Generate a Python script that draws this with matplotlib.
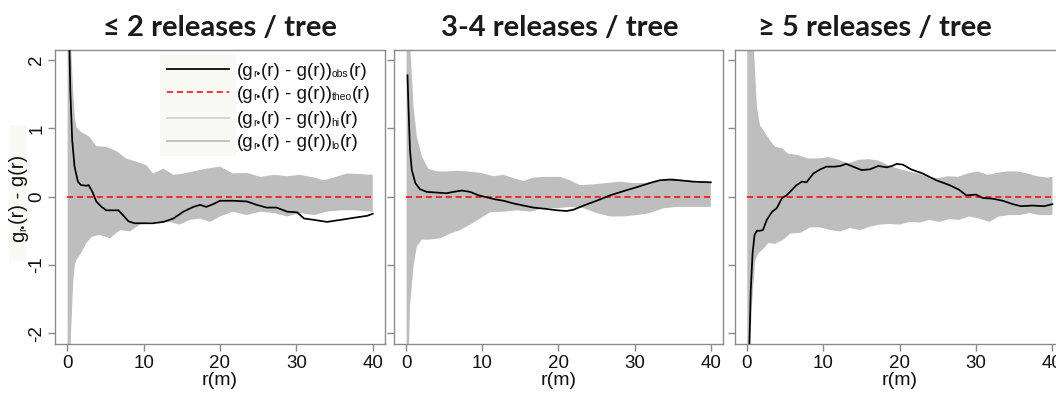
import matplotlib
matplotlib.use("Agg")
import matplotlib.pyplot as plt
from matplotlib.lines import Line2D
from matplotlib.patches import Rectangle
import numpy as np

plt.rcParams['font.family'] = ['Liberation Sans', 'DejaVu Sans']

titles = ["≤ 2 releases / tree", "3-4 releases / tree", "≥ 5 releases / tree"]
xticks = [0, 10, 20, 30, 40]
yticks = [-2, -1, 0, 1, 2]
legend_subs = ["obs", "theo", "hi", "lo"]
xlabel = "r(m)"

# ---- panel 1: <= 2 releases
p1_hi_r = [0.05, 0.3, 0.5, 0.8, 1.0, 1.2, 1.8, 2.9, 3.8, 5.1, 6.4, 7.7, 9.1, 10.4, 11.2, 12.6, 13.9, 15.2, 16.5,
           18.2, 20, 21.7, 23.5, 25.3, 27, 28.8, 30.5, 32.3, 33.6, 34.9, 36.6, 38.4, 40]
p1_hi = [4.0, 3.0, 2.2, 1.5, 1.15, 1.02, 0.95, 0.88, 0.74, 0.73, 0.67, 0.56, 0.51, 0.46, 0.34, 0.41, 0.32, 0.34,
         0.37, 0.41, 0.44, 0.34, 0.35, 0.29, 0.32, 0.30, 0.32, 0.28, 0.24, 0.28, 0.34, 0.33, 0.32]
p1_lo_r = [0.05, 0.3, 0.5, 0.8, 1.0, 1.2, 1.8, 2.5, 3.2, 4.2, 5.6, 6.9, 8.2, 9.5, 10.8, 12.1, 13.4, 14.7, 16.1,
           17.4, 18.7, 20, 21.7, 23.5, 25.3, 27, 28.8, 30.5, 32.3, 34, 35.8, 37.5, 40]
p1_lo = [-4.0, -3.0, -2.0, -1.22, -1.0, -0.93, -0.83, -0.68, -0.59, -0.56, -0.61, -0.49, -0.51, -0.41, -0.37,
         -0.39, -0.37, -0.41, -0.34, -0.32, -0.37, -0.29, -0.22, -0.27, -0.22, -0.24, -0.29, -0.24, -0.27, -0.22,
         -0.20, -0.20, -0.22]
p1_obs_r = [0.15, 0.4, 0.65, 0.96, 1.4, 1.8, 2.5, 2.8, 3.3, 3.8, 4.5, 5.1, 6.0, 6.7, 7.3, 8.0, 8.8, 9.9, 11.2,
            12.6, 13.9, 15.2, 16.5, 17.4, 18.2, 19.1, 20, 21.7, 23.5, 24.8, 26.1, 27.4, 28.8, 30.1, 31, 32.3,
            34, 35.8, 37.5, 39.3, 40]
p1_obs = [3.0, 1.56, 0.83, 0.44, 0.22, 0.17, 0.16, 0.17, 0.07, -0.07, -0.15, -0.20, -0.20, -0.20, -0.27, -0.36,
          -0.39, -0.39, -0.39, -0.37, -0.32, -0.22, -0.15, -0.12, -0.15, -0.11, -0.06, -0.06, -0.07, -0.12, -0.16,
          -0.16, -0.22, -0.23, -0.32, -0.34, -0.37, -0.34, -0.31, -0.28, -0.25]

# ---- panel 2: 3-4 releases
p2_hi_r = [0.05, 0.3, 0.5, 0.96, 1.4, 2.05, 2.9, 4.0, 5.3, 6.6, 8.0, 9.7, 11.5, 12.8, 14.1, 15.4, 16.7, 18.4,
           20.2, 21.5, 22.8, 24.6, 26.3, 28, 29.8, 31.6, 33.3, 35, 36.8, 38.6, 40]
p2_hi = [4.0, 3.0, 2.3, 1.32, 0.88, 0.59, 0.41, 0.37, 0.37, 0.38, 0.37, 0.35, 0.30, 0.32, 0.27, 0.23, 0.28, 0.29,
         0.29, 0.24, 0.17, 0.18, 0.20, 0.22, 0.20, 0.20, 0.25, 0.27, 0.24, 0.22, 0.22]
p2_lo_r = [0.05, 0.3, 0.5, 0.96, 1.4, 2.05, 3.1, 4.5, 5.8, 7.1, 8.4, 9.7, 11, 12.8, 14.5, 16.3, 18, 19.8, 21.5,
           23.3, 25, 26.8, 28.5, 30.3, 32, 33.8, 35.5, 37.3, 40]
p2_lo = [-4.0, -2.5, -1.6, -1.02, -0.73, -0.63, -0.63, -0.61, -0.54, -0.49, -0.41, -0.32, -0.23, -0.22, -0.20,
         -0.22, -0.17, -0.17, -0.15, -0.17, -0.24, -0.29, -0.29, -0.27, -0.24, -0.17, -0.15, -0.15, -0.15]
p2_obs_r = [0.17, 0.3, 0.5, 0.74, 1.2, 1.8, 2.7, 4.0, 5.3, 6.2, 7.3, 8.4, 9.5, 10.6, 11.7, 12.8, 14.1, 15.4, 16.7,
            18.4, 19.8, 21.1, 22, 23.3, 25, 26.8, 28.5, 30.3, 32, 33.3, 34.6, 35.9, 37.7, 40]
p2_obs = [1.78, 1.32, 0.68, 0.39, 0.20, 0.11, 0.07, 0.06, 0.05, 0.07, 0.09, 0.07, 0.02, -0.01, -0.04, -0.06, -0.10,
          -0.13, -0.16, -0.18, -0.20, -0.21, -0.19, -0.13, -0.06, 0.02, 0.08, 0.14, 0.20, 0.24, 0.25, 0.24, 0.22,
          0.21]

# ---- panel 3: >= 5 releases
p3_hi_r = [0.05, 0.5, 0.9, 1.3, 1.7, 2.4, 3.0, 3.7, 4.6, 5.4, 6.7, 8.0, 9.3, 10.7, 12, 13.3, 14.6, 15.9, 17.2,
           18.5, 19.8, 21.1, 22.4, 23.7, 25, 26.3, 27.6, 28.9, 30.2, 31.5, 32.8, 34.1, 35.4, 36.7, 38, 39.3, 40]
p3_hi = [4.0, 3.0, 2.2, 1.32, 1.05, 0.93, 0.83, 0.73, 0.71, 0.63, 0.61, 0.56, 0.56, 0.58, 0.54, 0.49, 0.54, 0.55,
         0.53, 0.46, 0.41, 0.37, 0.34, 0.29, 0.27, 0.30, 0.29, 0.34, 0.37, 0.32, 0.35, 0.37, 0.37, 0.34, 0.30,
         0.28, 0.29]
p3_lo_r = [0.05, 0.3, 0.65, 1.1, 1.5, 2.2, 2.8, 3.7, 4.8, 5.7, 7.0, 8.3, 9.6, 10.9, 12.2, 13.5, 14.8, 16.1, 17.4,
           18.7, 20, 21.3, 22.6, 23.9, 25.2, 26.5, 27.8, 29.1, 30.4, 31.7, 33, 34.3, 35.7, 37, 38.3, 40]
p3_lo = [-4.0, -2.6, -1.6, -0.93, -0.83, -0.76, -0.68, -0.69, -0.63, -0.54, -0.53, -0.45, -0.45, -0.49, -0.51,
         -0.46, -0.49, -0.44, -0.41, -0.40, -0.41, -0.37, -0.38, -0.34, -0.37, -0.33, -0.34, -0.29, -0.32, -0.37,
         -0.29, -0.27, -0.27, -0.24, -0.27, -0.27]
p3_obs_r = [0.25, 0.5, 0.74, 1.0, 1.3, 1.7, 2.1, 2.6, 3.3, 3.9, 4.6, 5.2, 5.9, 6.5, 7.2, 7.8, 8.7, 9.6, 10.4, 11.5,
            12.2, 13, 13.9, 15, 16.1, 17.2, 18.3, 19, 19.6, 20.4, 21.5, 23, 24.8, 26.5, 27.8, 28.7, 30, 30.9, 32.2,
            33.5, 34.8, 35.9, 37.4, 38.9, 40]
p3_obs = [-2.5, -1.37, -0.83, -0.56, -0.50, -0.50, -0.49, -0.34, -0.22, -0.17, -0.02, 0.02, 0.10, 0.17, 0.22, 0.21,
          0.34, 0.40, 0.44, 0.44, 0.45, 0.48, 0.44, 0.39, 0.40, 0.45, 0.43, 0.45, 0.48, 0.47, 0.40, 0.34, 0.24,
          0.17, 0.10, 0.02, 0.03, -0.02, -0.03, -0.06, -0.11, -0.14, -0.13, -0.14, -0.11]

panels = [
    (p1_hi_r, p1_hi, p1_lo_r, p1_lo, p1_obs_r, p1_obs),
    (p2_hi_r, p2_hi, p2_lo_r, p2_lo, p2_obs_r, p2_obs),
    (p3_hi_r, p3_hi, p3_lo_r, p3_lo, p3_obs_r, p3_obs),
]

W, H = 1056, 395
fig = plt.figure(figsize=(W / 100, H / 100), dpi=100)
renderer = fig.canvas.get_renderer()
TXT = '#111111'


def rich_text(x_px, y_px, pieces, rotation=0, zorder=6):
    """Place text pieces (text, size, shift_px) one after another; y_px is the baseline from top."""
    pos = 0.0
    for txt, size, dy in pieces:
        if rotation == 0:
            t = fig.text((x_px + pos) / W, 1 - (y_px + dy) / H, txt, fontsize=size, ha='left',
                         va='baseline', color=TXT, zorder=zorder)
            pos += t.get_window_extent(renderer).width
        else:
            t = fig.text((x_px + dy) / W, 1 - (y_px - pos) / H, txt, fontsize=size, ha='left',
                         va='baseline', rotation=90, rotation_mode='anchor', color=TXT, zorder=zorder)
            pos += t.get_window_extent(renderer).height


ax_px = [(55, 330), (394, 329), (734.7, 330)]
top_px, bot_px = 50, 344
title_x = [220, 560, 875]
frame_col = '#8a8a8a'

for i, (lx, w) in enumerate(ax_px):
    ax = fig.add_axes([lx / W, (H - bot_px) / H, w / W, (bot_px - top_px) / H])
    hr, hv, lr, lv, orr, ov = panels[i]
    grid = np.union1d(hr, lr)
    up = np.interp(grid, hr, hv)
    lo = np.interp(grid, lr, lv)
    ax.fill_between(grid, lo, up, color='#bebebe', linewidth=0, zorder=1)
    ax.plot([0, 40], [0, 0], color='#ff0000', linestyle=(0, (4, 2.5)), linewidth=1.1, zorder=2)
    ax.plot(orr, ov, color='black', linewidth=1.25, zorder=3)
    ax.set_xlim(-1.6, 41.6)
    ax.set_ylim(-2.16, 2.15)
    ax.set_xticks(xticks)
    ax.set_yticks(yticks)
    for s in ax.spines.values():
        s.set_color(frame_col)
        s.set_linewidth(1.0)
    ax.tick_params(axis='both', colors=frame_col, length=5, width=1.0, labelcolor=TXT, labelsize=13.5)
    ax.tick_params(axis='x', pad=3)
    if i == 0:
        ax.set_yticklabels([str(t) for t in yticks], rotation=90, va='center')
        ax.tick_params(axis='y', pad=2)
    else:
        ax.set_yticklabels([])
    ax.set_xlabel(xlabel, fontsize=14, labelpad=0, color=TXT)
    fig.text(title_x[i] / W, 1 - 28 / H, titles[i], ha='center', va='center',
             fontsize=21, fontweight='bold', family=['Lato', 'DejaVu Sans'], color='#1a1a1a')

# y label with faint background
fig.patches.append(Rectangle((9 / W, 1 - 262 / H), 17 / W, 137 / H, transform=fig.transFigure,
                             facecolor='#f9f9f5', edgecolor='none', zorder=0))
rich_text(24, 242, [("g", 14.5, 0), ("r•", 7.5, 2), ("(r) - g(r)", 14.5, 0)], rotation=90, zorder=2)

# legend (drawn manually)
fig.patches.append(Rectangle((160 / W, 1 - 156 / H), 76 / W, 101 / H, transform=fig.transFigure,
                             facecolor='#f9f9f6', edgecolor='none', zorder=5))
leg_y = [69, 92.3, 117.7, 140.7]
leg_style = [dict(color='black', lw=1.25, ls='-'),
             dict(color='#ff0000', lw=1.1, ls=(0, (4, 2.5))),
             dict(color='#d3d3d3', lw=1.3, ls='-'),
             dict(color='#bebebe', lw=1.3, ls='-')]
for y, st, sub in zip(leg_y, leg_style, legend_subs):
    fig.add_artist(Line2D([167 / W, 229 / W], [1 - y / H, 1 - y / H], transform=fig.transFigure,
                          color=st['color'], lw=st['lw'], linestyle=st['ls'], zorder=6))
    rich_text(237, y + 6.5, [("(g", 13.5, 0), ("r•", 7.5, 1.5), ("(r) - g(r))", 13.5, 0),
                             (sub, 7.5, 1.5), ("(r)", 13.5, 0)])

fig.savefig('out.png', dpi=100)
